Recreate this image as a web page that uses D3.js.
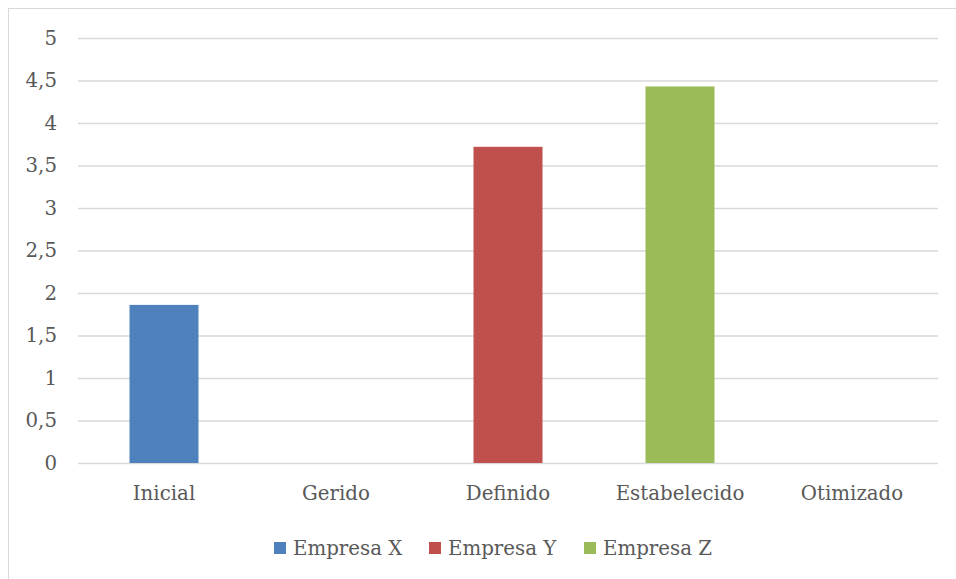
<!DOCTYPE html>
<html><head><meta charset="utf-8">
<script src="https://cdn.jsdelivr.net/npm/d3@7"></script>
<style>body{margin:0;background:#fff}svg{display:block}</style>
</head><body>
<svg id="c" width="956" height="579"></svg>
<script>
const categories = ["Inicial","Gerido","Definido","Estabelecido","Otimizado"];
const seriesNames = ["Empresa X","Empresa Y","Empresa Z"];
const empresaX = [1.86, null, null, null, null];
const empresaY = [null, null, 3.72, null, null];
const empresaZ = [null, null, null, 4.43, null];
const yTicks = [0,0.5,1,1.5,2,2.5,3,3.5,4,4.5,5];
const colors = ["#4f81bd","#c0504d","#9bbb59"];

const svg = d3.select("#c");
const font = "'DejaVu Serif', serif";
const fs = 19.8;
svg.append("rect").attr("x",8.5).attr("y",8.5).attr("width",960).attr("height",600)
  .attr("fill","none").attr("stroke","#d9d9d9");

const m = {l:78, r:938, t:38, b:463};
const x = d3.scaleBand().domain(categories).range([m.l,m.r]).paddingInner(0).paddingOuter(0);
const y = d3.scaleLinear().domain([0,5]).range([m.b,m.t]);

const yAxis = svg.append("g").attr("transform",`translate(${m.l},0)`)
  .call(d3.axisLeft(y).tickValues(yTicks).tickSize(-(m.r-m.l)).tickPadding(21)
    .tickFormat(d => String(d).replace(".",",")));
yAxis.select(".domain").remove();
yAxis.selectAll("line").attr("stroke","#d9d9d9").attr("stroke-width",1.3);
yAxis.selectAll("text").attr("font-family",font).attr("font-size",fs).attr("fill","#595959");

const xAxis = svg.append("g").attr("transform",`translate(0,${m.b})`)
  .call(d3.axisBottom(x).tickSize(0).tickPadding(23));
xAxis.select(".domain").remove();
xAxis.selectAll("text").attr("font-family",font).attr("font-size",fs).attr("fill","#595959");

const all = [empresaX, empresaY, empresaZ];
const bw = 69;
all.forEach((vals,si) => {
  svg.append("g").selectAll("rect")
    .data(vals.map((v,i)=>({c:categories[i],v})).filter(d=>d.v!=null))
    .join("rect")
    .attr("x", d => x(d.c) + x.bandwidth()/2 - bw/2)
    .attr("width", bw)
    .attr("y", d => y(d.v))
    .attr("height", d => y(0)-y(d.v))
    .attr("fill", colors[si]);
});

// legend
const lg = svg.append("g");
const lx = [274, 429, 584];
seriesNames.forEach((n,i)=>{
  lg.append("rect").attr("x",lx[i]).attr("y",542).attr("width",12).attr("height",12).attr("fill",colors[i]);
  lg.append("text").attr("x",lx[i]+19).attr("y",548).attr("dy","0.35em")
    .attr("font-family",font).attr("font-size",fs).attr("fill","#595959").text(n);
});
</script>
</body></html>
